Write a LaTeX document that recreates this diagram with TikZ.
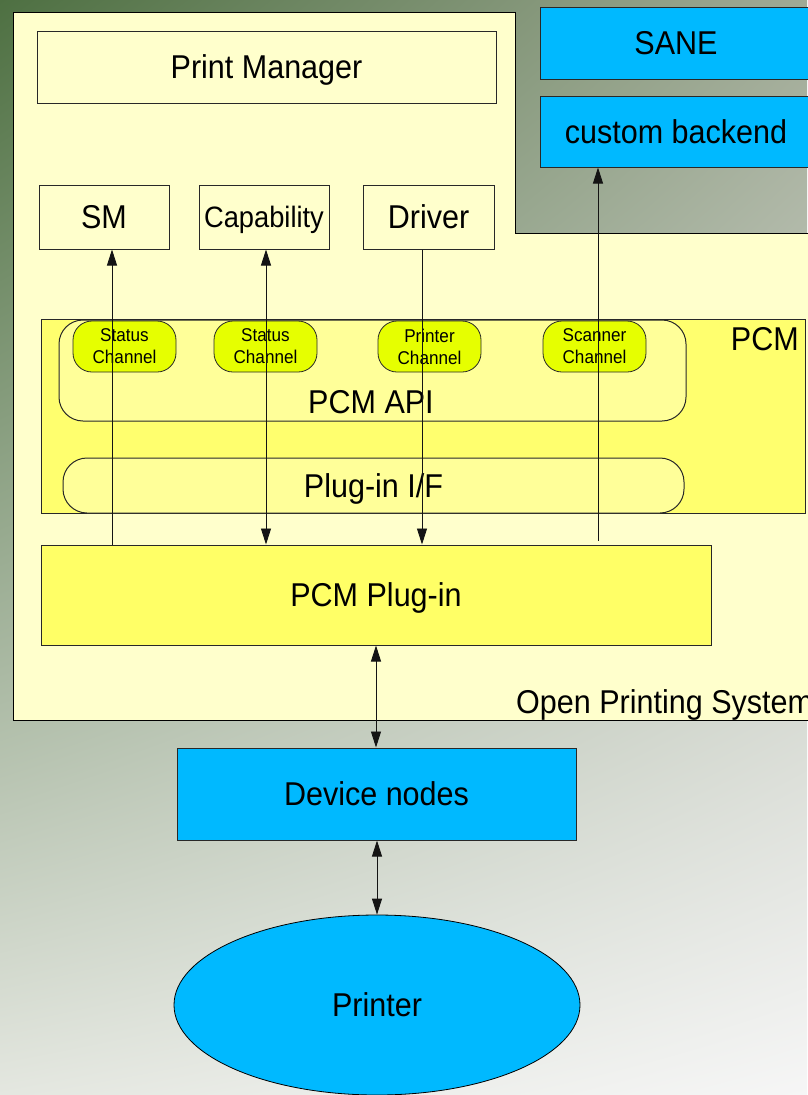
\documentclass[tikz,border=0pt]{standalone}
\usepackage{fontspec}
\setmainfont[FakeStretch=0.925]{Liberation Sans}
\usetikzlibrary{arrows.meta,calc,shapes.geometric,shadings}

% palette
\definecolor{bgTL}{RGB}{78,112,66}
\definecolor{bgTR}{RGB}{160,170,150}
\definecolor{bgBL}{RGB}{228,231,224}
\definecolor{bgBR}{RGB}{246,246,246}
\definecolor{opsfill}{RGB}{255,255,204}
\definecolor{devblue}{RGB}{0,185,255}
\definecolor{pcmfill}{RGB}{255,255,110}
\definecolor{apifill}{RGB}{255,255,153}
\definecolor{chanfill}{RGB}{230,255,0}
\definecolor{plugfill}{RGB}{255,255,102}
\definecolor{edge}{RGB}{40,40,40}
\definecolor{wire}{RGB}{20,20,20}

\begin{document}
\begin{tikzpicture}[x=1pt,y=-1pt,
  mainfont/.style={font=\fontsize{33}{36}\selectfont},
  box/.style={draw=edge,line width=1pt,rectangle,inner sep=0pt,
    text height=23.5pt,text depth=0pt,mainfont},
  softbox/.style={box,rounded corners=24pt},
  chanbox/.style={draw=edge,line width=0.8pt,rectangle,rounded corners=19pt,
    fill=chanfill,inner sep=0pt,align=center,
    font=\fontsize{18.5}{22}\selectfont,
    minimum width=103pt,minimum height=51pt},
  txt/.style={inner sep=0pt,text height=23.5pt,text depth=0pt,mainfont},
  tip/.tip={Triangle[length=16pt,width=10pt]},
  oneway/.style={draw=wire,line width=0.9pt,-tip},
  twoway/.style={draw=wire,line width=0.9pt,tip-tip}
]
\useasboundingbox (0,0) rectangle (807,1095);

% backdrop
\shade[upper left=bgTL,upper right=bgTR,lower left=bgBL,lower right=bgBR]
  (0,0) rectangle (807,1095);

% Open Printing System frame with the notch at the top right
\draw[fill=opsfill,draw=black,line width=1pt]
  (13,12) -- (515,12) -- (515,233) -- (820,233) -- (820,720) -- (13,720) -- cycle;
\node[txt,anchor=west] (ops) at (516,702) {Open Printing System};

% top row
\node[box,fill=opsfill,minimum width=459pt,minimum height=72pt] (pm) at (266.5,67) {Print Manager};
\node[box,fill=devblue,minimum width=272pt,minimum height=72pt] (sane) at (676,43) {SANE};
\node[box,fill=devblue,minimum width=272pt,minimum height=71pt] (cb) at (676,131.5) {custom backend};

\node[box,fill=opsfill,minimum width=130pt,minimum height=64pt] (sm) at (104,217) {SM};
\node[box,fill=opsfill,minimum width=130pt,minimum height=64pt,
  font=\fontsize{29.5}{32}\selectfont,text height=21pt] (cap) at (264,217) {Capability};
\node[box,fill=opsfill,minimum width=131pt,minimum height=64pt] (drv) at (428.5,217) {Driver};

% PCM block
\node[box,fill=pcmfill,minimum width=764pt,minimum height=194pt] (pcm) at (423,416) {};
\node[txt,anchor=north east] (pcmtxt) at (799,327) {PCM};
\node[softbox,fill=apifill,minimum width=627pt,minimum height=101pt] (api) at (372.5,370.5) {};
\node[txt] (apitxt) at (371,402) {PCM API};
\node[softbox,fill=apifill,minimum width=621pt,minimum height=55pt] (pif) at (373.5,485.5) {Plug-in I/F};

\node[chanbox] (ch1) at (124.5,346.5) {Status\\Channel};
\node[chanbox] (ch2) at (265.5,346.5) {Status\\Channel};
\node[chanbox] (ch3) at (429.5,346.5) {Printer\\Channel};
\node[chanbox] (ch4) at (594.5,346.5) {Scanner\\Channel};

\node[box,fill=plugfill,minimum width=670pt,minimum height=100pt] (plug) at (376,595) {PCM Plug-in};

% devices
\node[box,fill=devblue,minimum width=399pt,minimum height=92pt] (dev) at (376.5,794) {Device nodes};
\node[ellipse,draw=black,line width=0.8pt,fill=devblue,inner sep=0pt,
  minimum width=406pt,minimum height=180pt,mainfont] (prn) at (377,1005) {Printer};

% connector columns
\coordinate (xsm) at (112,0);
\coordinate (xcap) at (266,0);
\coordinate (xdrv) at (422,0);
\coordinate (xscn) at (598,0);

\draw[oneway] (plug.north -| xsm) -- (sm.south -| xsm);
\draw[twoway] (plug.north -| xcap) -- (cap.south -| xcap);
\draw[oneway] (drv.south -| xdrv) -- (plug.north -| xdrv);
\draw[oneway] ($(plug.north -| xscn)+(0,-4)$) -- (cb.south -| xscn);
\draw[twoway] (plug.south) -- (plug.south |- dev.north);
\draw[twoway] (dev.south -| prn.north) -- (prn.north);
\end{tikzpicture}
\end{document}
